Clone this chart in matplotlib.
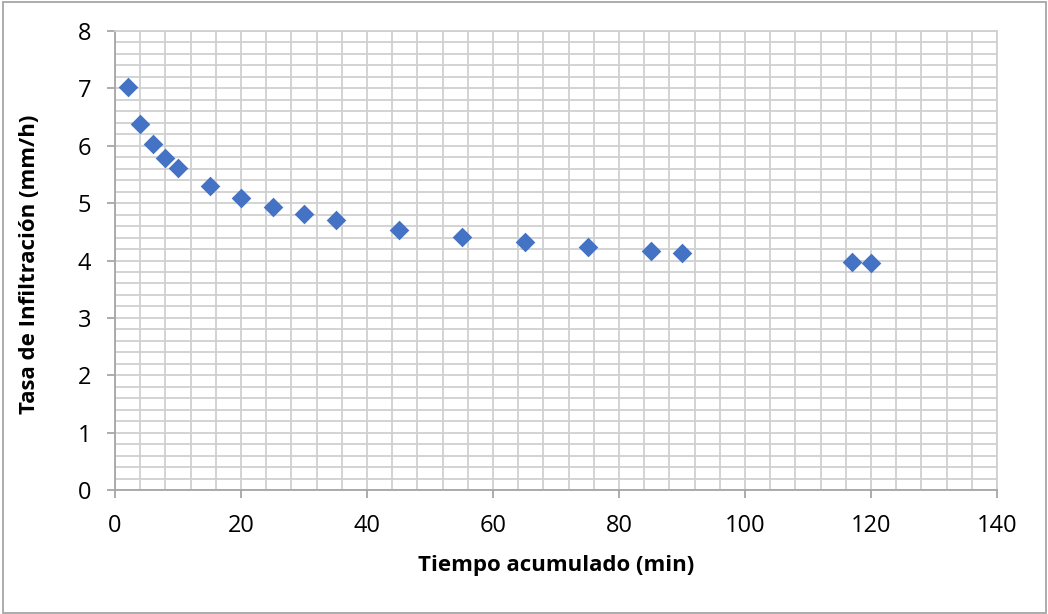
import numpy as np
import matplotlib.pyplot as plt
from matplotlib.patches import Rectangle
from matplotlib.ticker import MultipleLocator

# Infiltration test data
tiempo = [2, 4, 6, 8, 10, 15, 20, 25, 30, 35, 45, 55, 65, 75, 85, 90, 117, 120]  # min
tasa = [7.02, 6.38, 6.03, 5.78, 5.61, 5.30, 5.09, 4.93, 4.81, 4.70,
        4.53, 4.41, 4.32, 4.23, 4.16, 4.13, 3.97, 3.95]  # mm/h

x_label = "Tiempo acumulado (min)"
y_label = "Tasa de Infiltración (mm/h)"

plt.rcParams['font.family'] = ['Open Sans', 'DejaVu Sans']

fig = plt.figure(figsize=(10.48, 6.14), dpi=100)
ax = fig.add_axes([115 / 1048, 1 - 490 / 614, (997 - 115) / 1048, (490 - 31) / 614])

grid_col = '#d0d0d0'
ax.set_xlim(0, 140)
ax.set_ylim(0, 8)
ax.xaxis.set_major_locator(MultipleLocator(20))
ax.xaxis.set_minor_locator(MultipleLocator(4))
ax.yaxis.set_major_locator(MultipleLocator(1))
ax.yaxis.set_minor_locator(MultipleLocator(0.2))
ax.grid(True, which='both', color=grid_col, linewidth=1.3)
ax.set_axisbelow(True)

ax.scatter(tiempo, tasa, marker='D', s=100, color='#4472C4', zorder=3, linewidths=0)

for side in ['top', 'right']:
    ax.spines[side].set_color(grid_col)
    ax.spines[side].set_linewidth(1.3)
for side in ['left', 'bottom']:
    ax.spines[side].set_color('#a6a6a6')
    ax.spines[side].set_linewidth(1.3)

ax.tick_params(which='major', direction='out', length=6, width=1.3, color='#a6a6a6',
               labelsize=17)
ax.tick_params(which='minor', length=0)
ax.tick_params(axis='x', pad=11)
ax.tick_params(axis='y', pad=11)

ax.set_xlabel(x_label, fontsize=16, fontweight='bold', va='center')
ax.set_ylabel(y_label, fontsize=16, fontweight='bold', va='center')
ax.xaxis.set_label_coords((556 - 115) / 882, (490 - 565) / 459)
ax.yaxis.set_label_coords((30 - 115) / 882, (490 - 264) / 459)

# chart area border
fig.patches.append(Rectangle((3 / 1048, 1 / 614), 1043 / 1048, 611 / 614,
                             transform=fig.transFigure, fill=False,
                             edgecolor='#a6a6a6', linewidth=1.3))

fig.savefig('out.png', dpi=100)
